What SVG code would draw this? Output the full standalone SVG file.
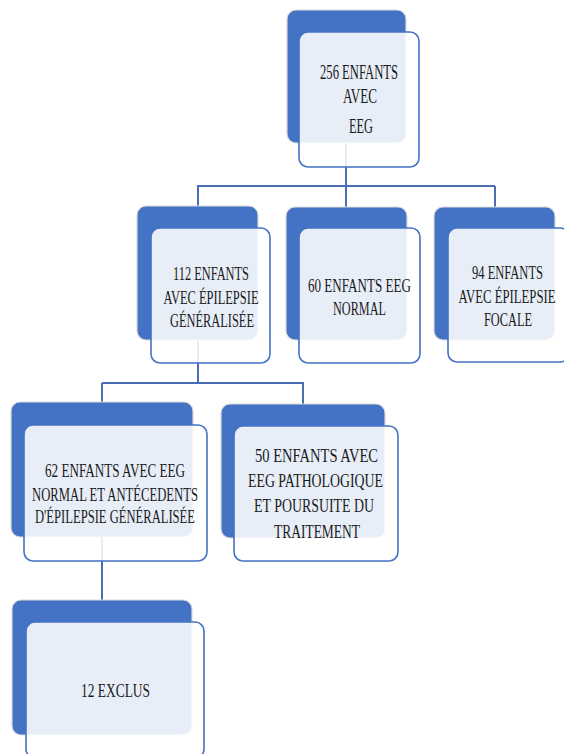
<svg xmlns="http://www.w3.org/2000/svg" width="564" height="754" viewBox="0 0 564 754">
<style>
.back{fill:#4472C4;stroke:#d9d9d9;stroke-width:1.2}
.front{fill:#ffffff;fill-opacity:0.88;stroke:#4472C4;stroke-width:1.6}
.conn{fill:none;stroke:#4a6db3;stroke-width:2}
text{font-family:"Liberation Serif","Times New Roman",serif;font-size:19.5px;fill:#1a1a1a;text-anchor:middle}
.big{font-size:21px}
</style>
<rect width="564" height="754" fill="#ffffff"/>
<g id="connectors">
<path class="conn" d="M346 143 V186 M197 186 H495 M198 186 V206 M346 186 V207 M495 186 V207"/>
<path class="conn" d="M198 340 V383 M102 383 H304 M102 383 V402 M303 383 V404"/>
<path class="conn" d="M102 537 V600"/>
</g>
<g id="n1">
<rect class="back" x="287" y="10" width="119" height="133" rx="9"/>
<rect class="front" x="299" y="32" width="120" height="135" rx="9"/>
<text class="big" x="359" y="79" textLength="78" lengthAdjust="spacingAndGlyphs">256 ENFANTS</text>
<text class="big" x="360" y="103" textLength="34" lengthAdjust="spacingAndGlyphs">AVEC</text>
<text class="big" x="361" y="133" textLength="24" lengthAdjust="spacingAndGlyphs">EEG</text>
</g>
<g id="n2">
<rect class="back" x="137" y="206" width="121" height="134" rx="9"/>
<rect class="front" x="151" y="228" width="119" height="135" rx="9"/>
<text x="211" y="280" textLength="76" lengthAdjust="spacingAndGlyphs">112 ENFANTS</text>
<text x="211" y="304" textLength="95" lengthAdjust="spacingAndGlyphs">AVEC ÉPILEPSIE</text>
<text x="212" y="327" textLength="84" lengthAdjust="spacingAndGlyphs">GÉNÉRALISÉE</text>
</g>
<g id="n3">
<rect class="back" x="286" y="207" width="121" height="133" rx="9"/>
<rect class="front" x="299" y="228" width="121" height="135" rx="9"/>
<text x="359.5" y="292" textLength="103" lengthAdjust="spacingAndGlyphs">60 ENFANTS  EEG</text>
<text x="359.5" y="315" textLength="53" lengthAdjust="spacingAndGlyphs">NORMAL</text>
</g>
<g id="n4">
<rect class="back" x="434" y="207" width="121" height="133" rx="9"/>
<rect class="front" x="448" y="228" width="121" height="134" rx="9"/>
<text x="507.5" y="279" textLength="71" lengthAdjust="spacingAndGlyphs">94 ENFANTS</text>
<text x="507" y="303" textLength="97" lengthAdjust="spacingAndGlyphs">AVEC ÉPILEPSIE</text>
<text x="508" y="326" textLength="48" lengthAdjust="spacingAndGlyphs">FOCALE</text>
</g>
<g id="n5">
<rect class="back" x="11" y="402" width="182" height="135" rx="9"/>
<rect class="front" x="24" y="425" width="183" height="136" rx="9"/>
<text x="115" y="477" textLength="140" lengthAdjust="spacingAndGlyphs">62 ENFANTS AVEC EEG</text>
<text x="115" y="501" textLength="166" lengthAdjust="spacingAndGlyphs">NORMAL ET ANTÉCEDENTS</text>
<text x="115" y="523" textLength="160" lengthAdjust="spacingAndGlyphs">D'ÉPILEPSIE GÉNÉRALISÉE</text>
</g>
<g id="n6">
<rect class="back" x="221" y="404" width="164" height="134" rx="9"/>
<rect class="front" x="234" y="426" width="164" height="135" rx="9"/>
<text x="316.5" y="462" textLength="123" lengthAdjust="spacingAndGlyphs">50 ENFANTS AVEC</text>
<text x="315.5" y="487" textLength="135" lengthAdjust="spacingAndGlyphs">EEG PATHOLOGIQUE</text>
<text x="314" y="512" textLength="120" lengthAdjust="spacingAndGlyphs">ET POURSUITE DU</text>
<text x="317" y="538" textLength="86" lengthAdjust="spacingAndGlyphs">TRAITEMENT</text>
</g>
<g id="n7">
<rect class="back" x="12" y="600" width="180" height="135" rx="9"/>
<rect class="front" x="26" y="622" width="178" height="136" rx="9"/>
<text x="115.5" y="697" textLength="69" lengthAdjust="spacingAndGlyphs">12 EXCLUS</text>
</g>
</svg>
